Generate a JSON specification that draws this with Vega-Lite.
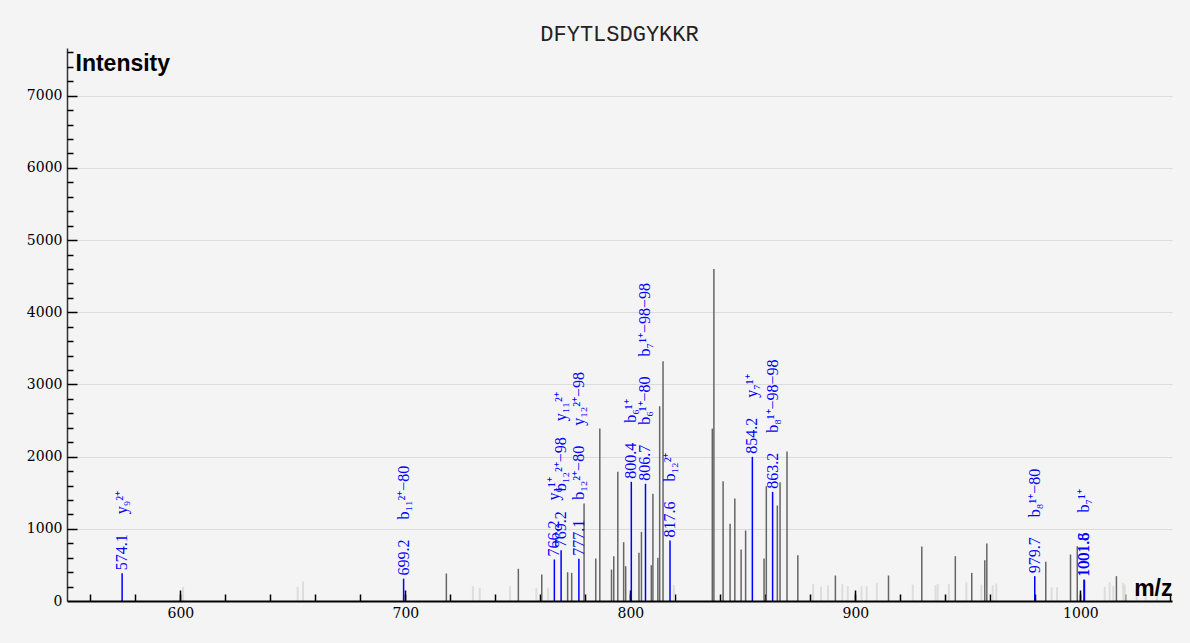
{
  "$schema": "https://vega.github.io/schema/vega-lite/v6.json",
  "width": 1105,
  "height": 553,
  "autosize": {"type": "none"},
  "padding": {"left": 67, "top": 48, "right": 18, "bottom": 42},
  "background": "#f4f4f4",
  "title": {"text": "DFYTLSDGYKKR", "font": "Liberation Mono", "fontSize": 22, "fontWeight": "normal", "color": "#222222", "anchor": "middle", "baseline": "alphabetic", "offset": -15},
  "config": {"view": {"stroke": null}},
  "data": {"values": [
    {"mz": 574.1, "intensity": 384, "kind": "blue", "label": "574.1\u2003\u2005y₉²⁺"},
    {"mz": 699.2, "intensity": 310, "kind": "blue", "label": "699.2\u2003\u2005b₁₁²⁺−80"},
    {"mz": 766.2, "intensity": 575, "kind": "blue", "label": "766.2\u2003\u2005y₆¹⁺"},
    {"mz": 769.2, "intensity": 704, "kind": "blue", "label": "769.2\u2003\u2005b₁₂²⁺−98\u2003y₁₁²⁺"},
    {"mz": 777.1, "intensity": 584, "kind": "blue", "label": "777.1\u2003\u2005b₁₂²⁺−80\u2003\u2005y₁₂²⁺−98"},
    {"mz": 800.4, "intensity": 1651, "kind": "blue", "label": "800.4\u2003\u2005b₆¹⁺"},
    {"mz": 806.7, "intensity": 1623, "kind": "blue", "label": "806.7\u2003\u2005b₆¹⁺−80\u2003\u2005b₇¹⁺−98−98"},
    {"mz": 817.6, "intensity": 838, "kind": "blue", "label": "817.6\u2003\u2005b₁₂²⁺"},
    {"mz": 854.2, "intensity": 1997, "kind": "blue", "label": "854.2\u2003\u2005y₇¹⁺"},
    {"mz": 863.2, "intensity": 1512, "kind": "blue", "label": "863.2\u2003\u2005b₈¹⁺−98−98"},
    {"mz": 979.7, "intensity": 344, "kind": "blue", "label": "979.7\u2003\u2005b₈¹⁺−80"},
    {"mz": 1001.6, "intensity": 298, "kind": "blue", "label": "1001.6\u2003\u2005b₇¹⁺"},
    {"mz": 1001.8, "intensity": 290, "kind": "blue", "label": "1001.8"},
    {"mz": 718.2, "intensity": 381, "kind": "dark"},
    {"mz": 750.2, "intensity": 446, "kind": "dark"},
    {"mz": 760.6, "intensity": 367, "kind": "dark"},
    {"mz": 772.1, "intensity": 399, "kind": "dark"},
    {"mz": 773.9, "intensity": 390, "kind": "dark"},
    {"mz": 779.4, "intensity": 1350, "kind": "dark"},
    {"mz": 784.6, "intensity": 589, "kind": "dark"},
    {"mz": 786.4, "intensity": 2389, "kind": "dark"},
    {"mz": 791.6, "intensity": 436, "kind": "dark"},
    {"mz": 792.6, "intensity": 621, "kind": "dark"},
    {"mz": 794.4, "intensity": 1789, "kind": "dark"},
    {"mz": 797.0, "intensity": 815, "kind": "dark"},
    {"mz": 797.9, "intensity": 482, "kind": "dark"},
    {"mz": 803.8, "intensity": 667, "kind": "dark"},
    {"mz": 804.9, "intensity": 958, "kind": "dark"},
    {"mz": 809.3, "intensity": 496, "kind": "dark"},
    {"mz": 810.0, "intensity": 1485, "kind": "dark"},
    {"mz": 812.2, "intensity": 598, "kind": "dark"},
    {"mz": 813.0, "intensity": 2698, "kind": "dark"},
    {"mz": 814.5, "intensity": 3321, "kind": "dark"},
    {"mz": 836.4, "intensity": 2389, "kind": "dark"},
    {"mz": 837.1, "intensity": 4600, "kind": "dark"},
    {"mz": 841.2, "intensity": 1660, "kind": "dark"},
    {"mz": 844.3, "intensity": 1069, "kind": "dark"},
    {"mz": 846.4, "intensity": 1420, "kind": "dark"},
    {"mz": 849.2, "intensity": 713, "kind": "dark"},
    {"mz": 851.2, "intensity": 976, "kind": "dark"},
    {"mz": 859.4, "intensity": 589, "kind": "dark"},
    {"mz": 860.4, "intensity": 1590, "kind": "dark"},
    {"mz": 865.3, "intensity": 1323, "kind": "dark"},
    {"mz": 866.5, "intensity": 1646, "kind": "dark"},
    {"mz": 869.6, "intensity": 2071, "kind": "dark"},
    {"mz": 874.4, "intensity": 635, "kind": "dark"},
    {"mz": 891.1, "intensity": 353, "kind": "dark"},
    {"mz": 914.7, "intensity": 353, "kind": "dark"},
    {"mz": 929.5, "intensity": 755, "kind": "dark"},
    {"mz": 944.4, "intensity": 621, "kind": "dark"},
    {"mz": 951.7, "intensity": 390, "kind": "dark"},
    {"mz": 957.5, "intensity": 565, "kind": "dark"},
    {"mz": 958.4, "intensity": 796, "kind": "dark"},
    {"mz": 984.6, "intensity": 543, "kind": "dark"},
    {"mz": 995.6, "intensity": 644, "kind": "dark"},
    {"mz": 998.6, "intensity": 759, "kind": "dark"},
    {"mz": 1016.0, "intensity": 344, "kind": "dark"},
    {"mz": 601.2, "intensity": 197, "kind": "light"},
    {"mz": 652.1, "intensity": 197, "kind": "light"},
    {"mz": 654.5, "intensity": 270, "kind": "light"},
    {"mz": 730.0, "intensity": 205, "kind": "light"},
    {"mz": 733.0, "intensity": 183, "kind": "light"},
    {"mz": 746.5, "intensity": 205, "kind": "light"},
    {"mz": 758.2, "intensity": 183, "kind": "light"},
    {"mz": 763.4, "intensity": 183, "kind": "light"},
    {"mz": 819.3, "intensity": 222, "kind": "light"},
    {"mz": 881.2, "intensity": 233, "kind": "light"},
    {"mz": 884.7, "intensity": 200, "kind": "light"},
    {"mz": 887.8, "intensity": 216, "kind": "light"},
    {"mz": 894.2, "intensity": 238, "kind": "light"},
    {"mz": 896.6, "intensity": 205, "kind": "light"},
    {"mz": 902.7, "intensity": 205, "kind": "light"},
    {"mz": 905.0, "intensity": 205, "kind": "light"},
    {"mz": 909.5, "intensity": 252, "kind": "light"},
    {"mz": 925.5, "intensity": 228, "kind": "light"},
    {"mz": 935.6, "intensity": 219, "kind": "light"},
    {"mz": 936.6, "intensity": 238, "kind": "light"},
    {"mz": 941.5, "intensity": 238, "kind": "light"},
    {"mz": 949.3, "intensity": 260, "kind": "light"},
    {"mz": 956.0, "intensity": 228, "kind": "light"},
    {"mz": 961.0, "intensity": 219, "kind": "light"},
    {"mz": 962.6, "intensity": 242, "kind": "light"},
    {"mz": 987.2, "intensity": 191, "kind": "light"},
    {"mz": 989.6, "intensity": 191, "kind": "light"},
    {"mz": 1010.8, "intensity": 196, "kind": "light"},
    {"mz": 1013.0, "intensity": 260, "kind": "light"},
    {"mz": 1014.6, "intensity": 205, "kind": "light"},
    {"mz": 1019.0, "intensity": 252, "kind": "light"},
    {"mz": 1019.7, "intensity": 228, "kind": "light"},
    {"mz": 1025.0, "intensity": 200, "kind": "light"},
    {"mz": 1029.0, "intensity": 220, "kind": "light"},
    {"mz": 1034.0, "intensity": 210, "kind": "light"}
  ]},
  "layer": [
    {
      "transform": [{"filter": "datum.kind === 'light'"}],
      "mark": {"type": "rule", "color": "#dddddd", "strokeWidth": 2},
      "encoding": {
        "x": {"field": "mz", "type": "quantitative",
          "scale": {"domain": [549.6, 1040.7], "nice": false, "zero": false},
          "axis": {"orient": "bottom", "values": [600, 700, 800, 900, 1000], "format": "d", "ticks": false, "tickSize": 0, "grid": false, "zindex": 2,
            "domainColor": "#000000", "domainWidth": 2, "labelFont": "DejaVu Serif", "labelFontSize": 14, "labelColor": "#000000", "labelPadding": 5,
            "title": "m/z", "titleFont": "Liberation Sans", "titleFontSize": 23, "titleFontWeight": "bold", "titleColor": "#000000",
            "titleAnchor": null, "titleAlign": "right", "titleBaseline": "alphabetic", "titleX": 1105, "titleY": -5.5}},
        "y": {"field": "intensity", "type": "quantitative",
          "scale": {"domain": [0, 7661], "nice": false, "zero": true},
          "axis": {"orient": "left", "values": [0, 1000, 2000, 3000, 4000, 5000, 6000, 7000], "format": "d", "ticks": false, "tickSize": 0,
            "grid": true, "gridColor": "#dcdcdc", "gridWidth": 1,
            "domainColor": "#333333", "domainWidth": 1.5, "labelFont": "DejaVu Serif", "labelFontSize": 14, "labelColor": "#000000", "labelPadding": 5,
            "title": "Intensity", "titleFont": "Liberation Sans", "titleFontSize": 23, "titleFontWeight": "bold", "titleColor": "#000000",
            "titleAngle": 0, "titleAnchor": null, "titleAlign": "left", "titleBaseline": "alphabetic", "titleX": 8, "titleY": 22.5}},
        "y2": {"datum": 0}
      }
    },
    {
      "transform": [{"filter": "datum.kind === 'dark'"}],
      "mark": {"type": "rule", "color": "#666666", "strokeWidth": 1.5},
      "encoding": {
        "x": {"field": "mz", "type": "quantitative",
          "axis": {"orient": "bottom", "values": [600, 700, 800, 900, 1000], "labels": false, "domain": false, "grid": false,
            "tickSize": -11, "tickColor": "#000000", "tickWidth": 1.5, "title": null}},
        "y": {"field": "intensity", "type": "quantitative",
          "axis": {"orient": "left", "values": [1000, 2000, 3000, 4000, 5000, 6000, 7000], "labels": false, "domain": false, "grid": false,
            "tickSize": -10, "tickColor": "#000000", "tickWidth": 1.5, "title": null}},
        "y2": {"datum": 0}
      }
    },
    {
      "transform": [{"filter": "datum.kind === 'blue'"}],
      "mark": {"type": "rule", "color": "#0000ff", "strokeWidth": 1.5},
      "encoding": {
        "x": {"field": "mz", "type": "quantitative",
          "axis": {"orient": "bottom", "values": [560, 580, 600, 620, 640, 660, 680, 700, 720, 740, 760, 780, 800, 820, 840, 860, 880, 900, 920, 940, 960, 980, 1000, 1020, 1040],
            "labels": false, "domain": false, "grid": false, "tickSize": -7, "tickColor": "#000000", "tickWidth": 1.5, "title": null}},
        "y": {"field": "intensity", "type": "quantitative",
          "axis": {"orient": "left", "values": [200, 400, 600, 800, 1200, 1400, 1600, 1800, 2200, 2400, 2600, 2800, 3200, 3400, 3600, 3800, 4200, 4400, 4600, 4800, 5200, 5400, 5600, 5800, 6200, 6400, 6600, 6800, 7200, 7400, 7600],
            "labels": false, "domain": false, "grid": false, "tickSize": -6, "tickColor": "#000000", "tickWidth": 1.5, "title": null}},
        "y2": {"datum": 0}
      }
    },
    {
      "transform": [{"filter": "datum.kind === 'blue'"}],
      "mark": {"type": "text", "angle": 270, "align": "left", "baseline": "middle", "dx": 3, "font": "Liberation Serif", "fontSize": 16, "color": "#0000ff"},
      "encoding": {
        "x": {"field": "mz", "type": "quantitative", "axis": null},
        "y": {"field": "intensity", "type": "quantitative", "axis": null},
        "text": {"field": "label"}
      }
    }
  ],
  "resolve": {"axis": {"x": "independent", "y": "independent"}}
}
